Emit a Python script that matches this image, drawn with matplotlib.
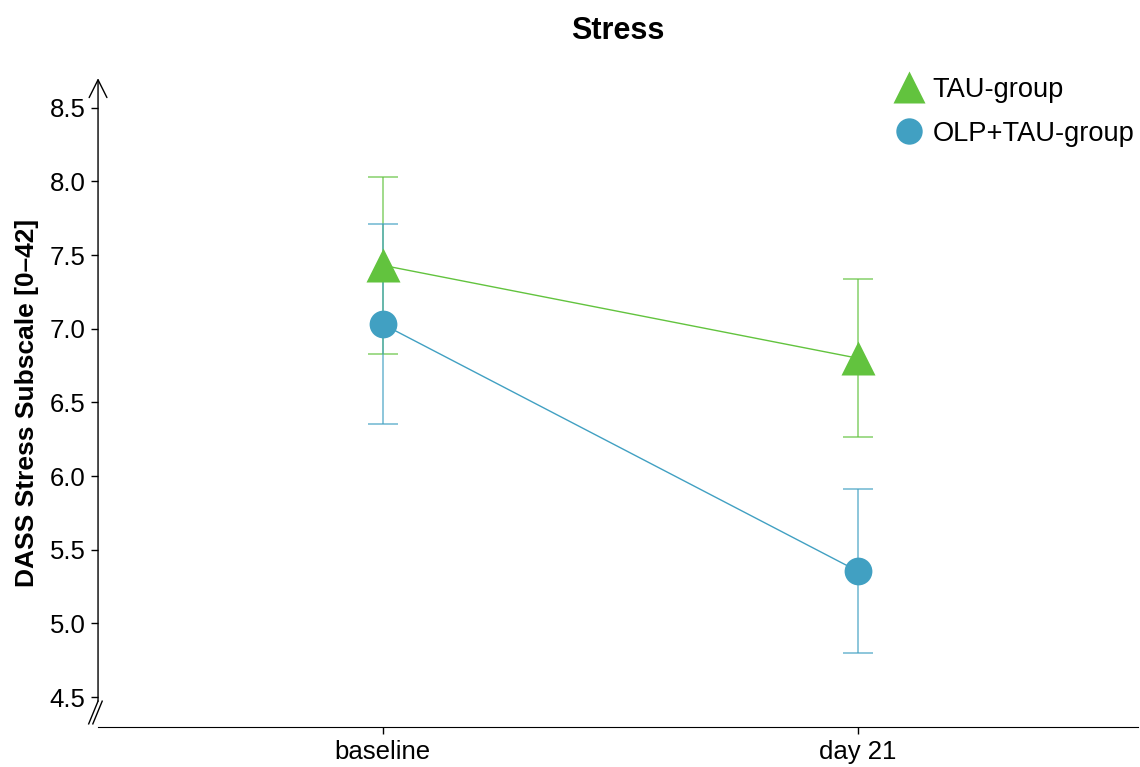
import matplotlib.pyplot as plt
import numpy as np

# group means and error bar half-widths per time point
timepoints = ["baseline", "day 21"]
tau_mean = [7.43, 6.80]
tau_err = [0.60, 0.535]
olp_mean = [7.03, 5.355]
olp_err = [0.68, 0.555]
yticks = [4.5, 5.0, 5.5, 6.0, 6.5, 7.0, 7.5, 8.0, 8.5]

green = "#62C33E"
blue = "#41A0C2"

plt.rcParams['font.family'] = ['Liberation Sans', 'DejaVu Sans']

fig = plt.figure(figsize=(11.4, 7.67), dpi=100)
ax = fig.add_axes([0.086, 0.052, 0.912, 0.846])

x = np.arange(1, len(timepoints) + 1)

ax.errorbar(x, tau_mean, yerr=tau_err, fmt='none', ecolor=green, alpha=0.7,
            elinewidth=1.2, capsize=11, capthick=1.2, zorder=2)
ax.errorbar(x, olp_mean, yerr=olp_err, fmt='none', ecolor=blue, alpha=0.7,
            elinewidth=1.2, capsize=11, capthick=1.2, zorder=2)
ax.plot(x, tau_mean, color=green, lw=1, zorder=3)
ax.plot(x, olp_mean, color=blue, lw=1, zorder=3)
ax.plot(x, tau_mean, '^', color=green, ms=24, mec='none', zorder=4, label="TAU-group")
ax.plot(x, olp_mean, 'o', color=blue, ms=20, mec='none', zorder=4, label="OLP+TAU-group")

ax.set_xlim(0.4, 2.59)
ax.set_ylim(4.296, 8.70)
ax.set_xticks(x)
ax.set_xticklabels(timepoints, fontsize=18.5)
ax.set_yticks(yticks)
ax.set_yticklabels([f"{v:.1f}" for v in yticks], fontsize=18.5)
ax.tick_params(direction='out', length=5, width=1, colors='black', pad=4)

ax.spines['top'].set_visible(False)
ax.spines['right'].set_visible(False)
ax.spines['left'].set_visible(False)

# y axis with arrow head and a break mark at the bottom
y0 = 0.04
ax.annotate('', xy=(0, 1.0), xytext=(0, y0), xycoords='axes fraction',
            arrowprops=dict(arrowstyle='->', lw=1, color='black',
                            mutation_scale=32, shrinkA=0, shrinkB=0))
for dx in (-0.004, 0.0):
    ax.plot([-0.005 + dx, 0.004 + dx], [0.005, 0.04], transform=ax.transAxes,
            color='black', lw=1, clip_on=False)

ax.set_ylabel("DASS Stress Subscale [0\u201342]", fontsize=19, fontweight='bold', labelpad=8)
ax.set_title("Stress", fontsize=22, fontweight='bold', pad=28)

ax.legend(loc='upper right', bbox_to_anchor=(1134 / 1140, 0.90),
          bbox_transform=fig.transFigure, frameon=False, fontsize=19.6,
          borderpad=0, borderaxespad=0, handlelength=1.1, handletextpad=0.3,
          labelspacing=0.66, numpoints=1, markerscale=0.95)

fig.savefig("out.png", dpi=100)
